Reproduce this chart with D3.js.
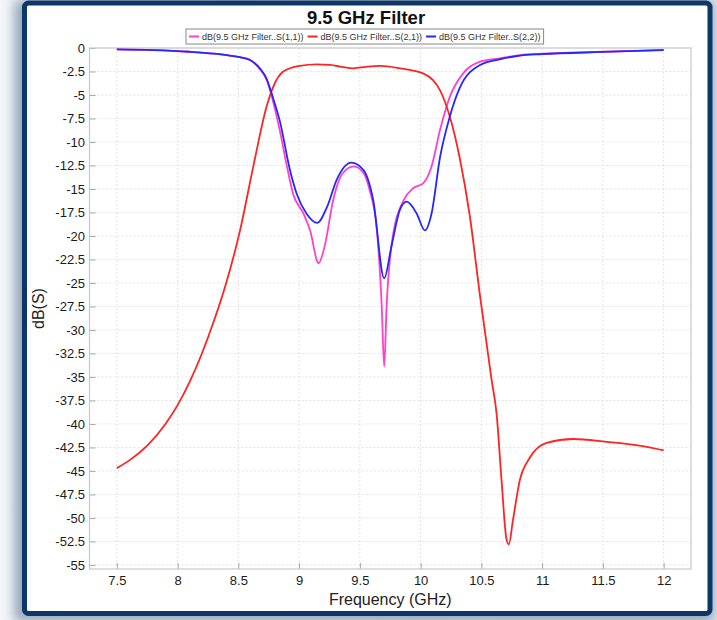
<!DOCTYPE html>
<html>
<head>
<meta charset="utf-8">
<script src="https://cdn.jsdelivr.net/npm/d3@7"></script>
<style>
  html, body { margin: 0; padding: 0; background: #eef1f5; }
  svg { display: block; }
  text { font-family: "Liberation Sans", Arial, sans-serif; }
</style>
</head>
<body>
<svg id="chart" width="717" height="620"></svg>
<script>
// ---------- DATA ----------
const chartTitle = "9.5 GHz Filter";
const xLabel = "Frequency (GHz)";
const yLabel = "dB(S)";
const xTicks = [7.5, 8, 8.5, 9, 9.5, 10, 10.5, 11, 11.5, 12];
const yTicks = [0, -2.5, -5, -7.5, -10, -12.5, -15, -17.5, -20, -22.5, -25, -27.5, -30,
                -32.5, -35, -37.5, -40, -42.5, -45, -47.5, -50, -52.5, -55];
const seriesNames = ["dB(9.5 GHz Filter..S(1,1))", "dB(9.5 GHz Filter..S(2,1))", "dB(9.5 GHz Filter..S(2,2))"];

const s11Freq = [7.5, 7.8, 8.1, 8.3, 8.43, 8.52, 8.6, 8.68, 8.733, 8.79, 8.84, 8.9, 8.95, 9.035, 9.09, 9.16,
                 9.21, 9.28, 9.36, 9.45, 9.53, 9.58, 9.64, 9.68, 9.70, 9.72, 9.775, 9.86, 9.94, 10.02, 10.09,
                 10.16, 10.24, 10.35, 10.49, 10.65, 10.82, 11.0, 11.5, 12.0];
const s11dB   = [-0.15, -0.22, -0.4, -0.6, -0.8, -1.0, -1.3, -2.3, -3.4, -5.9, -8.7, -12.6, -15.5, -17.6, -19.4, -22.9,
                 -21.1, -16.2, -13.3, -12.6, -13.3, -15.1, -19.4, -27.5, -33.9, -27.5, -19.7, -16.2, -14.9, -14.4, -12.6,
                 -8.7, -5.2, -2.7, -1.46, -1.1, -0.75, -0.6, -0.4, -0.2];

const s21Freq = [7.5, 7.6, 7.75, 7.9, 8.0, 8.1, 8.2, 8.3, 8.4, 8.514, 8.623, 8.733, 8.788, 8.87, 9.007, 9.145,
                 9.254, 9.35, 9.446, 9.55, 9.665, 9.83, 10.02, 10.1, 10.16, 10.24, 10.32, 10.405, 10.49, 10.584,
                 10.625, 10.666, 10.707, 10.726, 10.76, 10.816, 10.898, 11.036, 11.255, 11.53, 11.8, 12.0];
const s21dB   = [-44.7, -43.9, -42.3, -40.0, -38.0, -35.5, -32.5, -29.0, -25.0, -19.4, -12.6, -6.2, -4.1, -2.5, -1.9, -1.74,
                 -1.8, -2.0, -2.16, -2.0, -1.9, -2.16, -2.7, -3.4, -4.5, -7.3, -11.6, -17.9, -26.5, -35.3,
                 -38.9, -46.0, -52.3, -52.8, -50.2, -46.0, -43.6, -42.0, -41.6, -41.9, -42.3, -42.8];

const s22Freq = [7.5, 7.8, 8.1, 8.3, 8.43, 8.52, 8.6, 8.68, 8.73, 8.79, 8.84, 8.925, 8.98, 9.06, 9.15, 9.23,
                 9.31, 9.43, 9.53, 9.61, 9.70, 9.76, 9.83, 9.885, 9.967, 10.035, 10.09, 10.16, 10.24, 10.32,
                 10.49, 10.65, 10.82, 11.0, 11.5, 12.0];
const s22dB   = [-0.15, -0.22, -0.4, -0.6, -0.8, -1.0, -1.3, -2.2, -3.2, -5.5, -7.7, -13.0, -15.5, -17.6, -18.6, -16.9,
                 -14.0, -12.2, -13.0, -16.2, -24.5, -21.1, -17.2, -16.35, -17.6, -19.4, -17.6, -11.6, -7.3, -4.3,
                 -1.8, -1.2, -0.8, -0.65, -0.42, -0.22];

const seriesColors = ["#ff3fcf", "#ff2424", "#2626ff"];

// ---------- LAYOUT ----------
const svg = d3.select("#chart");
const W = 717, H = 620;
const plot = { left: 89.5, right: 691, top: 48, bottom: 569 };

// background + frame
const defs = svg.append("defs");
const grad = defs.append("linearGradient").attr("id", "bgGrad").attr("x1", 0).attr("x2", 1).attr("y1", 0).attr("y2", 0);
grad.append("stop").attr("offset", "0%").attr("stop-color", "#f4f6f9");
grad.append("stop").attr("offset", "100%").attr("stop-color", "#e6ebf1");
const blur = defs.append("filter").attr("id", "shadow").attr("x", "-10%").attr("y", "-10%").attr("width", "120%").attr("height", "120%");
blur.append("feGaussianBlur").attr("stdDeviation", 6);

svg.append("rect").attr("width", W).attr("height", H).attr("fill", "url(#bgGrad)");
svg.append("rect").attr("x", 14).attr("y", 0).attr("width", 700).attr("height", 622)
   .attr("fill", "#7f93aa").attr("filter", "url(#shadow)").attr("opacity", 0.8);
svg.append("rect").attr("x", 24.5).attr("y", 3).attr("width", 685.5).attr("height", 610.5)
   .attr("rx", 4).attr("fill", "#ffffff").attr("stroke", "#0c3766").attr("stroke-width", 5);

// scales
const x = d3.scaleLinear().domain([7.275, 12.225]).range([plot.left, plot.right]);
const y = d3.scaleLinear().domain([-55.43, 0]).range([plot.bottom, plot.top]);

// grid
const g = svg.append("g");
g.append("g").selectAll("line").data(xTicks).join("line")
  .attr("x1", d => x(d)).attr("x2", d => x(d)).attr("y1", plot.top).attr("y2", plot.bottom)
  .attr("stroke", "#e2e2e2").attr("stroke-dasharray", "2,2");
g.append("g").selectAll("line").data(yTicks).join("line")
  .attr("x1", plot.left).attr("x2", plot.right).attr("y1", d => y(d)).attr("y2", d => y(d))
  .attr("stroke", "#e2e2e2").attr("stroke-dasharray", "2,2");

// axes (ticks pointing inward)
const fmt = d => String(d);
const xAxis = d3.axisBottom(x).tickValues(xTicks).tickFormat(fmt).tickSizeInner(-6).tickSizeOuter(0).tickPadding(7);
const yAxis = d3.axisLeft(y).tickValues(yTicks).tickFormat(fmt).tickSizeInner(-6).tickSizeOuter(0).tickPadding(4.5);

const gx = svg.append("g").attr("transform", `translate(0,${plot.bottom})`).call(xAxis);
const gy = svg.append("g").attr("transform", `translate(${plot.left},0)`).call(yAxis);
[gx, gy].forEach(a => {
  a.select(".domain").remove();
  a.selectAll(".tick line").attr("stroke", "#a8a8a8");
  a.selectAll(".tick text").attr("fill", "#1a1a1a").style("font-size", "13px")
   .style("font-family", '"Liberation Sans", Arial, sans-serif');
});

// plot border
svg.append("rect").attr("x", plot.left).attr("y", plot.top)
  .attr("width", plot.right - plot.left).attr("height", plot.bottom - plot.top)
  .attr("fill", "none").attr("stroke", "#c8c8c8").attr("stroke-width", 1.2);

// lines
const line = d3.line().x(d => x(d[0])).y(d => y(d[1])).curve(d3.curveMonotoneX);
const series = [
  { f: s11Freq, v: s11dB, c: seriesColors[0] },
  { f: s21Freq, v: s21dB, c: seriesColors[1] },
  { f: s22Freq, v: s22dB, c: seriesColors[2] }
];
const clip = defs.append("clipPath").attr("id", "clip");
clip.append("rect").attr("x", plot.left).attr("y", plot.top).attr("width", plot.right - plot.left).attr("height", plot.bottom - plot.top);
const lg = svg.append("g").attr("clip-path", "url(#clip)");
series.forEach(s => {
  lg.append("path").datum(s.f.map((f, i) => [f, s.v[i]]))
    .attr("d", line).attr("fill", "none").attr("stroke", s.c).attr("stroke-width", 1.8)
    .attr("stroke-linejoin", "round");
});

// title
svg.append("text").attr("x", 366).attr("y", 24).attr("text-anchor", "middle")
  .style("font-size", "18.5px").style("font-weight", "bold").attr("fill", "#111").text(chartTitle);

// axis titles
svg.append("text").attr("x", (plot.left + plot.right) / 2).attr("y", 605).attr("text-anchor", "middle")
  .style("font-size", "16px").attr("fill", "#222").text(xLabel);
svg.append("text").attr("transform", `translate(44,${(plot.top + plot.bottom) / 2}) rotate(-90)`)
  .attr("text-anchor", "middle").style("font-size", "16px").attr("fill", "#222").text(yLabel);

// legend
const legX = 186, legY = 29, legH = 15;
const legG = svg.append("g");
const legBox = legG.append("rect").attr("x", legX).attr("y", legY).attr("height", legH)
  .attr("fill", "#fff").attr("stroke", "#888").attr("stroke-width", 1);
let cx = legX + 3;
seriesNames.forEach((name, i) => {
  legG.append("line").attr("x1", cx).attr("x2", cx + 10).attr("y1", legY + legH / 2).attr("y2", legY + legH / 2)
    .attr("stroke", seriesColors[i]).attr("stroke-width", 2);
  const t = legG.append("text").attr("x", cx + 13).attr("y", legY + legH / 2 + 3.2)
    .style("font-size", "9px").attr("fill", "#333").text(name);
  cx += 13 + t.node().getComputedTextLength() + 4;
});
legBox.attr("width", cx - legX - 1);
</script>
</body>
</html>
